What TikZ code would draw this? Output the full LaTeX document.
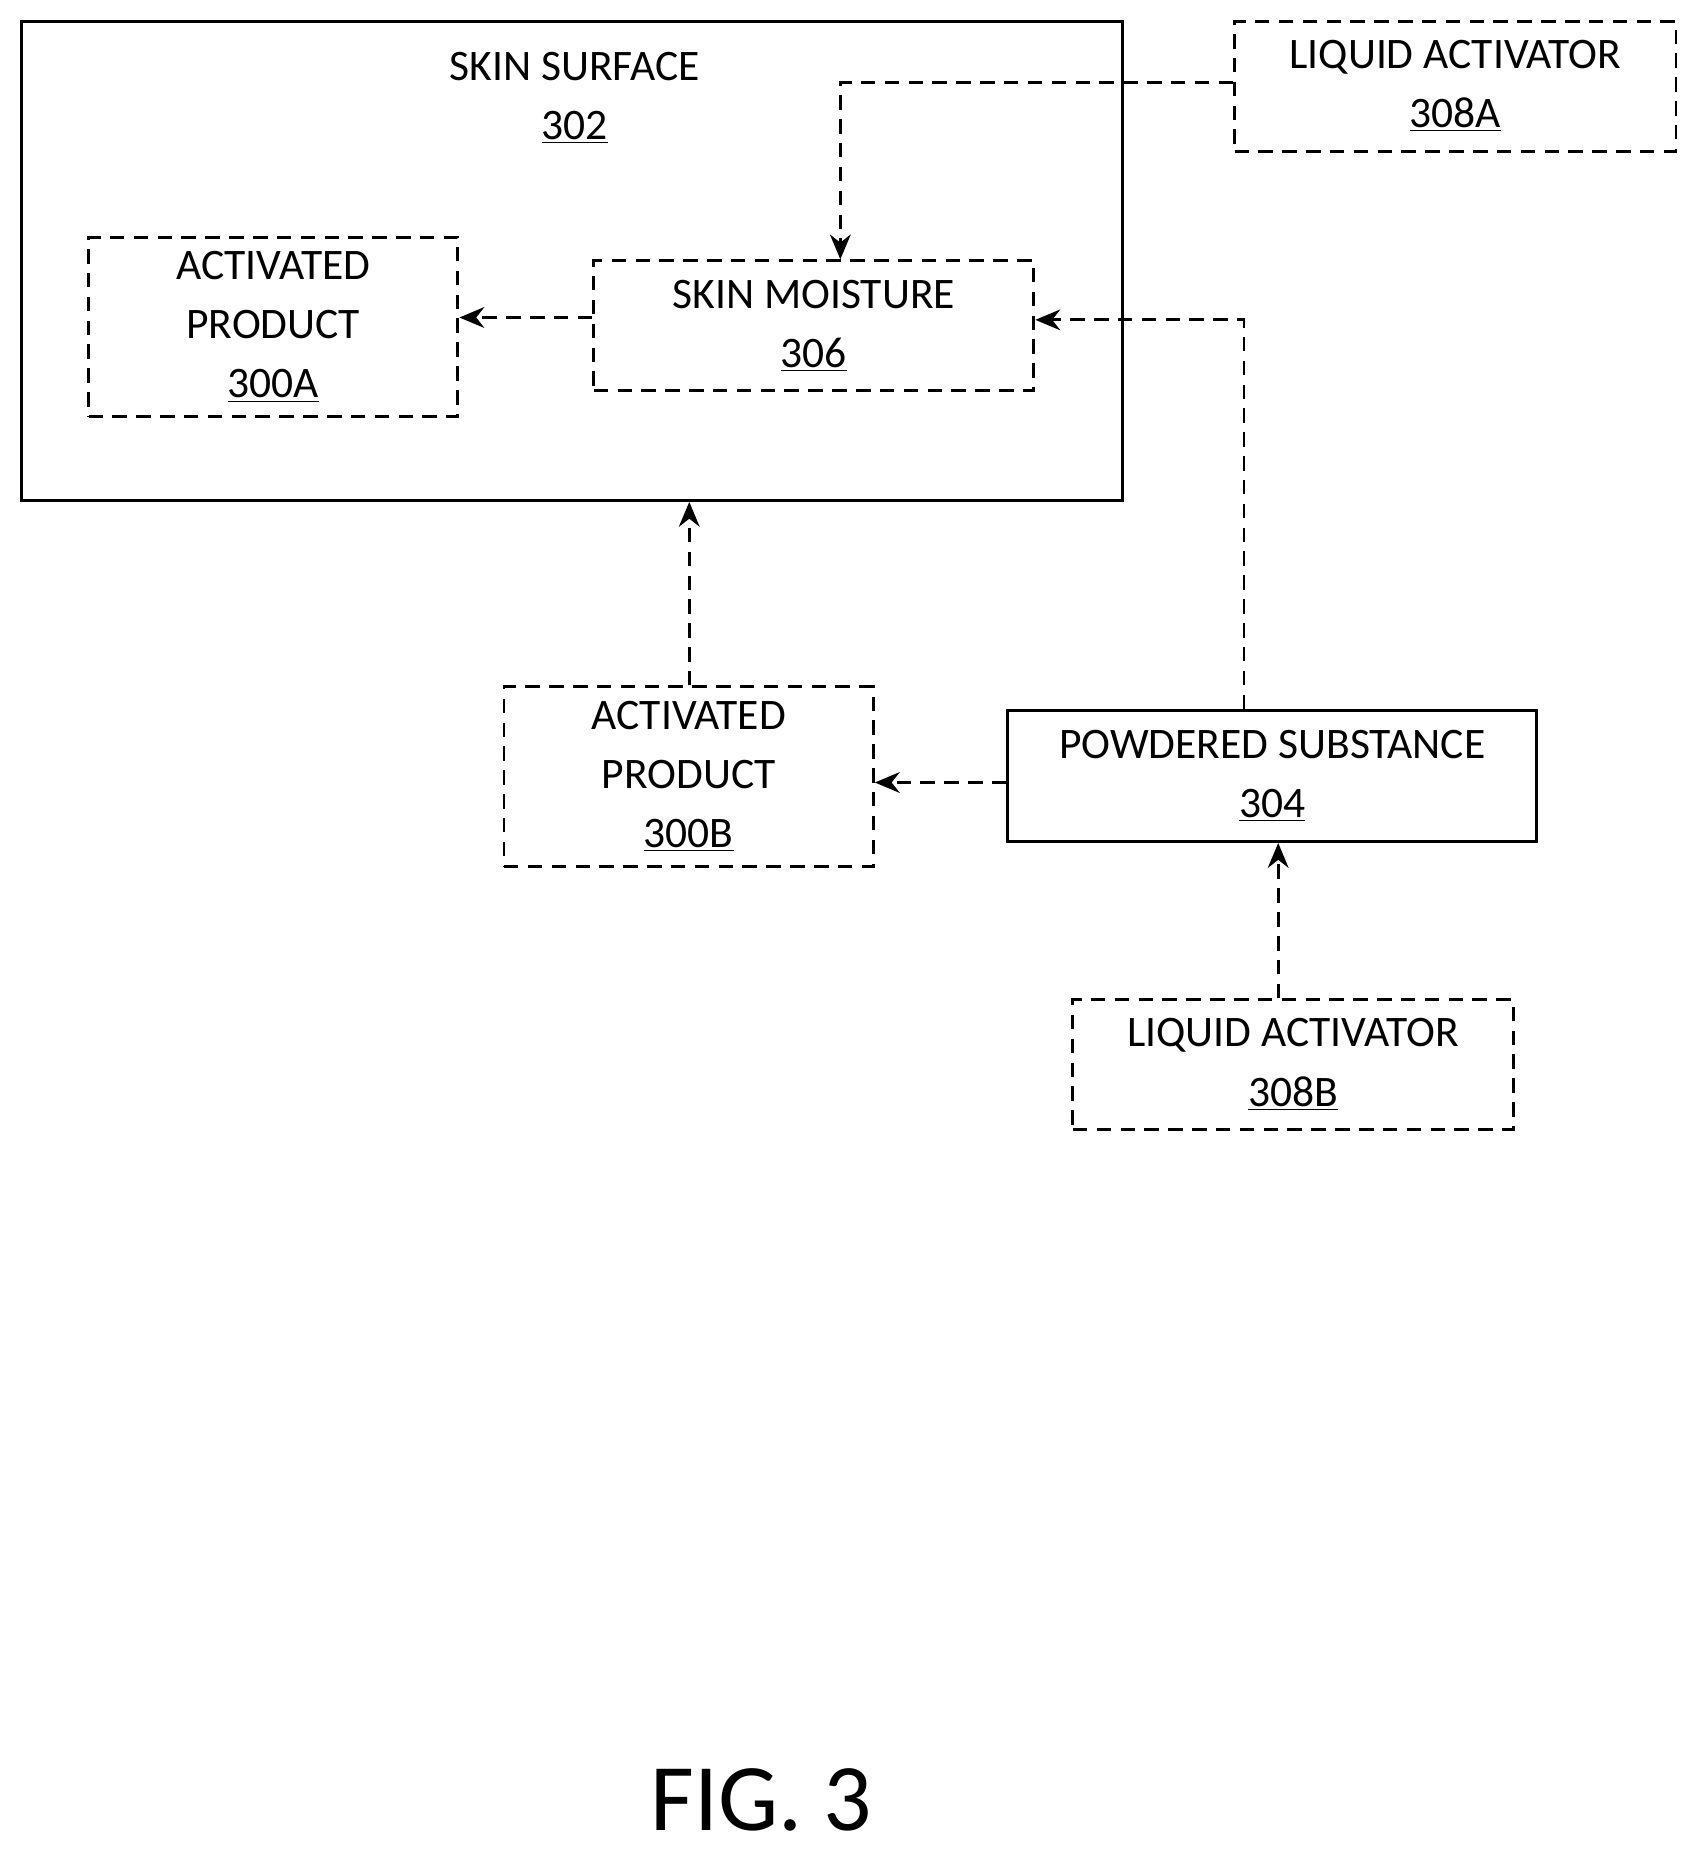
\documentclass[tikz,border=0pt]{standalone}
\usepackage{fontspec}
\setmainfont{Carlito}
\usetikzlibrary{arrows.meta}
\begin{document}
\begin{tikzpicture}[x=0.02cm,y=-0.02cm,
  box/.style={draw,line width=1.4pt,rectangle,inner sep=0pt,align=center,font=\fontsize{21}{28.5}\selectfont},
  dbox/.style={box,dash pattern=on 7pt off 4.5pt},
  arr/.style={line width=1.4pt,dash pattern=on 7pt off 4.5pt,-{Stealth[length=12pt,width=10pt]}}]
\useasboundingbox (0,0) rectangle (1440,1570);
\node[box,minimum width=933*0.02cm,minimum height=406*0.02cm] (s302) at (484.5,221) {};
\node[font=\fontsize{21}{28.5}\selectfont,align=center] (t302) at (487,83) {SKIN SURFACE\\\underline{302}};
\node[dbox,minimum width=374*0.02cm,minimum height=110*0.02cm] (a308) at (1233,73) {LIQUID ACTIVATOR\\\underline{308A}};
\node[dbox,minimum width=313*0.02cm,minimum height=152*0.02cm] (p300a) at (231.5,277) {ACTIVATED\\PRODUCT\\\underline{300A}};
\node[dbox,minimum width=373*0.02cm,minimum height=110*0.02cm] (m306) at (689.5,276) {SKIN MOISTURE\\\underline{306}};
\node[dbox,minimum width=313*0.02cm,minimum height=152*0.02cm] (p300b) at (583.5,658) {ACTIVATED\\PRODUCT\\\underline{300B}};
\node[box,minimum width=448*0.02cm,minimum height=111*0.02cm] (p304) at (1078,657.5) {POWDERED SUBSTANCE\\\underline{304}};
\node[dbox,minimum width=373*0.02cm,minimum height=110*0.02cm] (a308b) at (1095.5,902) {LIQUID ACTIVATOR\\\underline{308B}};
\node[font=\fontsize{46}{50}\selectfont] (fig) at (645,1525) {FIG. 3};
\draw[arr] (a308.west|-0,70) -| (712,0|-m306.north);
\draw[arr] (m306.west|-0,269) -- (p300a.east|-0,269);
\draw[arr] (1054,0|-p304.north) |- (m306.east|-0,271);
\draw[arr] (p300b.north-|584,0) -- (584,0|-s302.south);
\draw[arr] (p304.west|-0,663) -- (p300b.east|-0,663);
\draw[arr] (1083,0|-a308b.north) -- (1083,0|-p304.south);
\end{tikzpicture}
\end{document}
